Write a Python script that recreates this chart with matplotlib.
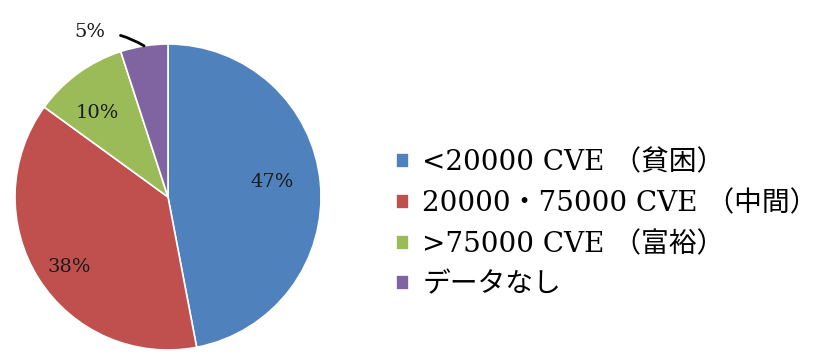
import numpy as np
import matplotlib.pyplot as plt

plt.rcParams['font.family'] = ['DejaVu Serif', 'Noto Sans CJK JP']

# 所得階層別の世帯割合
categories = ['<20000 CVE （貧困）', '20000・75000 CVE （中間）', '>75000 CVE （富裕）', 'データなし']
shares = [47, 38, 10, 5]
colors = ['#4F81BD', '#C0504D', '#9BBB59', '#8064A2']

fig = plt.figure(figsize=(8.26, 3.54), dpi=100, facecolor='white')
# 円の中心 (168, 197) px, 半径 153 px
ax = fig.add_axes([(168 - 153) / 826, (354 - 197 - 153) / 354, 306 / 826, 306 / 354])

wedges, _ = ax.pie(shares, colors=colors, startangle=90, counterclock=False,
                   radius=1.0, wedgeprops=dict(edgecolor='white', linewidth=1.2))
ax.set_xlim(-1, 1)
ax.set_ylim(-1, 1)
ax.set_aspect('equal')
ax.axis('off')

# ラベル（内側の3つ）
label_r = [0.69, 0.79, 0.72]
label_adj = [3, 3, 4]
for w, s, r, da in zip(wedges[:3], shares[:3], label_r, label_adj):
    ang = np.deg2rad((w.theta1 + w.theta2) / 2 + da)
    ax.text(r * np.cos(ang), r * np.sin(ang), f'{s}%', ha='center', va='center',
            fontsize=14, color='#1a1a1a')

# 5% は外側に引き出し線付き
w = wedges[3]
ang = np.deg2rad((w.theta1 + w.theta2) / 2)
ax.annotate(f'{shares[3]}%', xy=(np.cos(ang), np.sin(ang)), xytext=(-0.51, 1.08),
            ha='center', va='center', fontsize=14, color='#1a1a1a',
            arrowprops=dict(arrowstyle='-', color='black', lw=2,
                            shrinkA=9, shrinkB=0,
                            connectionstyle='arc3,rad=-0.15'),
            annotation_clip=False)

fig.legend(wedges, categories, loc='center left', bbox_to_anchor=(396 / 826, 1 - 224 / 354),
           frameon=False, fontsize=20, handlelength=0.45, handleheight=0.45,
           handletextpad=0.5, labelspacing=0.5, borderaxespad=0, borderpad=0)

fig.savefig('out.png', dpi=100, facecolor='white')
